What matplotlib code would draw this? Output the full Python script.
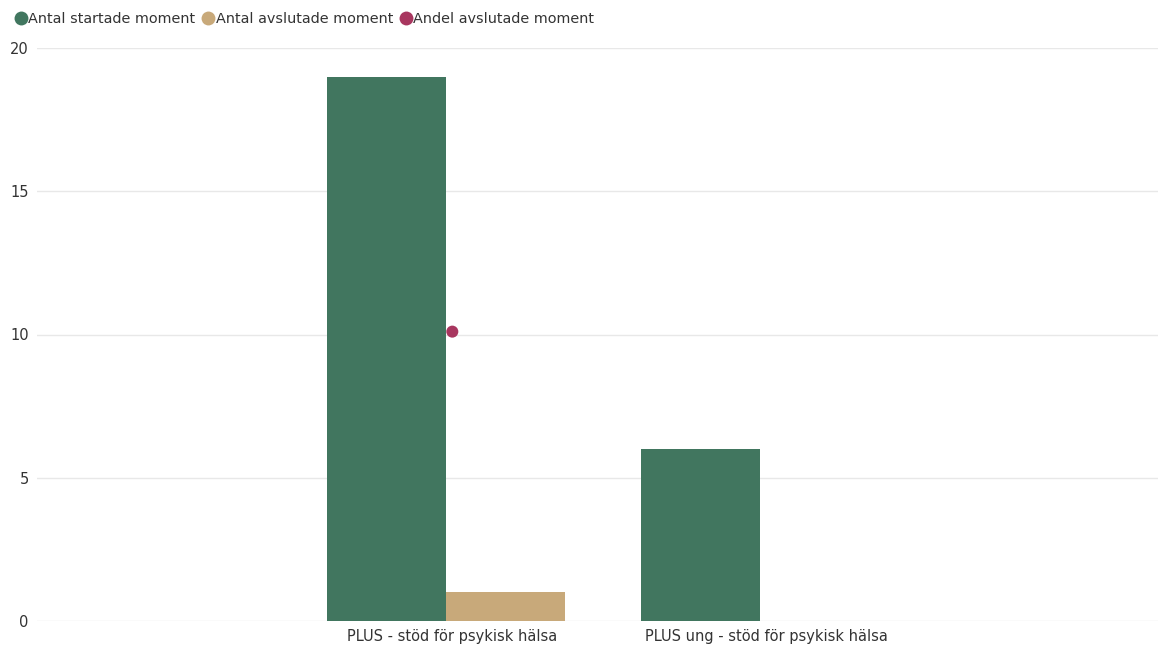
import numpy as np
import matplotlib.pyplot as plt
from matplotlib.lines import Line2D

plt.rcParams['font.family'] = ['DejaVu Sans']

# Data
categories = ["PLUS - stöd för psykisk hälsa", "PLUS ung - stöd för psykisk hälsa"]
startade = [19, 6]
avslutade = [1, 0]
andel = [10.1, None]

green = "#41765f"
tan = "#c8a97a"
magenta = "#a8365f"

fig = plt.figure(figsize=(11.58, 6.53), dpi=100)
ax = fig.add_axes([37 / 1158, 32 / 653, 1 - 37 / 1158, (621 - 48) / 653])

x = np.arange(len(categories))
w = 0.379

ax.bar(x - w / 2, startade, width=w, color=green, zorder=2)
ax.bar(x + w / 2, avslutade, width=w, color=tan, zorder=2)

# Share series (points)
px = [xi + 0.02 for xi, v in zip(x, andel) if v is not None]
py = [v for v in andel if v is not None]
ax.scatter(px, py, s=75, color=magenta, zorder=3, edgecolors="none")

ax.set_xlim(-1.303, 2.268)
ax.set_ylim(0, 20)
ax.set_yticks([0, 5, 10, 15, 20])
ax.set_xticks(x + 0.02)
ax.set_xticklabels(categories)

ax.grid(axis="y", color="#e8e8e8", linewidth=1, zorder=0)
ax.set_axisbelow(True)
for s in ax.spines.values():
    s.set_visible(False)
ax.tick_params(axis="both", length=0, labelsize=10.5, labelcolor="#333333")
ax.tick_params(axis="y", pad=6)
ax.tick_params(axis="x", pad=6)

handles = [
    Line2D([], [], marker="o", linestyle="none", markersize=10, color=green, markeredgewidth=0),
    Line2D([], [], marker="o", linestyle="none", markersize=10, color=tan, markeredgewidth=0),
    Line2D([], [], marker="o", linestyle="none", markersize=10, color=magenta, markeredgewidth=0),
]
labels = ["Antal startade moment", "Antal avslutade moment", "Andel avslutade moment"]
fig.legend(handles, labels, loc="upper left", bbox_to_anchor=(0.002, 0.997), ncol=3,
           frameon=False, fontsize=10.4, handletextpad=-0.1, columnspacing=0.3,
           handlelength=1.2, labelcolor="#333333", borderaxespad=0.3)

plt.savefig("out.png", dpi=100)
